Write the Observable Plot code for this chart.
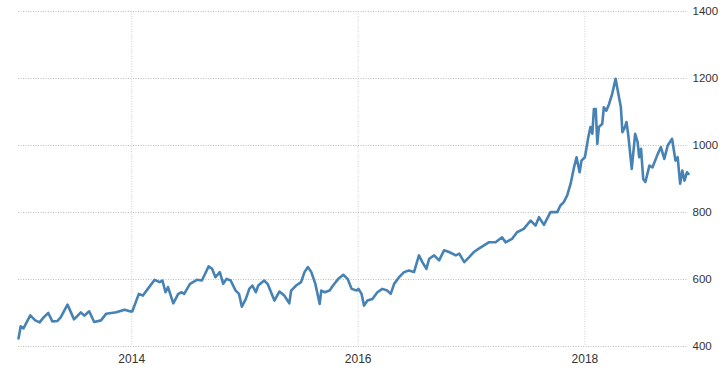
<!DOCTYPE html>
<html>
<head>
<meta charset="utf-8">
<script src="https://cdn.jsdelivr.net/npm/d3@7"></script>
<script src="https://cdn.jsdelivr.net/npm/@observablehq/plot@0.6"></script>
<style>
  html, body { margin: 0; padding: 0; background: #fff; }
  #chart svg { display: block; }
</style>
</head>
<body>
<div id="chart"></div>
<script>
const dates = [
  "2013-01-01","2013-01-08","2013-01-17","2013-02-08","2013-02-24","2013-03-10","2013-03-23","2013-04-07","2013-04-20","2013-05-06",
  "2013-05-17","2013-06-08","2013-06-29","2013-07-21","2013-08-01","2013-08-17","2013-09-02","2013-09-24","2013-10-11","2013-10-27",
  "2013-11-12","2013-12-09","2013-12-26","2014-01-03","2014-01-24","2014-02-06","2014-02-22","2014-03-16","2014-04-01","2014-04-10",
  "2014-04-20","2014-04-28","2014-05-15","2014-05-31","2014-06-11","2014-06-19","2014-07-08","2014-07-30","2014-08-15","2014-08-23",
  "2014-09-06","2014-09-17","2014-09-28","2014-10-12","2014-10-23","2014-11-03","2014-11-16","2014-12-02","2014-12-13","2014-12-22",
  "2015-01-04","2015-01-15","2015-01-25","2015-02-05","2015-02-13","2015-03-04","2015-03-15","2015-04-06","2015-04-22","2015-05-08",
  "2015-05-24","2015-05-30","2015-06-15","2015-07-01","2015-07-12","2015-07-23","2015-08-03","2015-08-16","2015-08-30","2015-09-04",
  "2015-09-15","2015-10-01","2015-10-12","2015-10-29","2015-11-14","2015-11-28","2015-12-11","2015-12-27","2016-01-02","2016-01-12",
  "2016-01-20","2016-01-31","2016-02-16","2016-03-03","2016-03-19","2016-04-04","2016-04-15","2016-04-26","2016-05-12","2016-05-28",
  "2016-06-13","2016-06-29","2016-07-15","2016-07-26","2016-08-08","2016-08-17","2016-09-02","2016-09-18","2016-10-04","2016-10-20",
  "2016-11-11","2016-11-22","2016-12-08","2016-12-24","2017-01-08","2017-01-24","2017-02-25","2017-03-19","2017-04-09","2017-04-20",
  "2017-05-11","2017-05-27","2017-06-18","2017-07-10","2017-07-26","2017-08-06","2017-08-22","2017-09-12","2017-10-04","2017-10-14",
  "2017-10-25","2017-11-05","2017-11-16","2017-11-27","2017-12-05","2017-12-15","2017-12-21","2018-01-01","2018-01-12","2018-01-19",
  "2018-01-25","2018-01-30","2018-02-05","2018-02-10","2018-02-15","2018-02-26","2018-03-03","2018-03-11","2018-03-20","2018-03-30",
  "2018-04-10","2018-04-19","2018-04-27","2018-05-02","2018-05-10","2018-05-15","2018-05-21","2018-06-01","2018-06-12","2018-06-20",
  "2018-06-25","2018-07-01","2018-07-08","2018-07-15","2018-07-28","2018-08-07","2018-08-24","2018-09-03","2018-09-14","2018-09-25",
  "2018-10-09","2018-10-20","2018-10-27","2018-11-04","2018-11-11","2018-11-18","2018-11-26","2018-12-01"
];
const values = [
  424,460,454,493,478,472,487,500,475,476,
  487,525,481,502,492,505,473,478,498,500,
  502,510,505,505,557,552,572,599,592,597,
  562,577,529,557,562,557,587,599,597,612,
  639,632,607,622,587,602,597,567,557,519,
  542,572,582,562,582,597,587,537,564,552,
  529,567,582,592,622,637,622,587,527,567,
  562,567,582,602,614,602,572,567,572,557,
  522,537,542,562,572,567,557,587,607,622,
  627,622,672,652,632,662,672,657,687,682,
  672,677,652,667,682,692,711,711,726,711,
  721,741,751,776,761,786,763,801,801,821,
  831,851,886,935,965,920,955,965,1025,1055,
  1035,1109,1109,1005,1055,1065,1114,1104,1124,1154,
  1199,1154,1114,1040,1055,1070,1030,930,1035,1010,
  965,990,900,891,940,935,975,995,960,1000,
  1020,955,965,886,925,895,920,915
];
const yTicks = [400, 600, 800, 1000, 1200, 1400];
const xTickYears = ["2014-01-01", "2016-01-01", "2018-01-01"];

const data = dates.map((d, i) => ({date: new Date(d), value: values[i]}));
const xTicks = xTickYears.map(d => new Date(d));

const chart = Plot.plot({
  width: 722,
  height: 383,
  marginLeft: 18,
  marginRight: 34,
  marginTop: 11,
  marginBottom: 37,
  style: {fontFamily: "'Liberation Sans', Arial, sans-serif", color: "#333", background: "#fff"},
  x: {type: "utc", domain: d3.extent(data, d => d.date)},
  y: {domain: [400, 1400]},
  marks: [
    Plot.gridY(yTicks, {stroke: "#bdbdbd", strokeOpacity: 1, strokeDasharray: "1,1.5"}),
    Plot.gridX(xTicks, {stroke: "#cfcfcf", strokeOpacity: 1, strokeDasharray: "1,1.5"}),
    Plot.axisY(yTicks, {anchor: "right", tickSize: 0, tickPadding: 4, textAnchor: "start", fontSize: 11.5, fill: "#333", label: null, tickFormat: d => String(d)}),
    Plot.axisX(xTicks, {anchor: "bottom", tickSize: 0, tickPadding: 8, fontSize: 12, fill: "#333", label: null, tickFormat: d3.utcFormat("%Y")}),
    Plot.line(data, {x: "date", y: "value", stroke: "#4682b4", strokeWidth: 2.6, strokeLinejoin: "round", strokeLinecap: "round"})
  ]
});
document.getElementById("chart").appendChild(chart);
</script>
</body>
</html>
